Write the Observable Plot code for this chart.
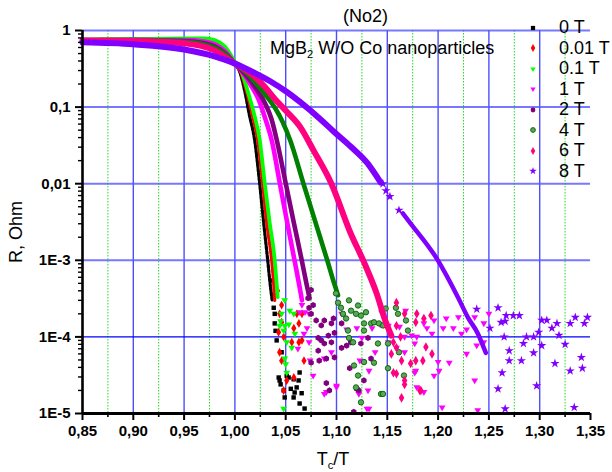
<!DOCTYPE html>
<html><head><meta charset="utf-8">
<script src="https://cdn.jsdelivr.net/npm/d3@7"></script>
<script src="https://cdn.jsdelivr.net/npm/@observablehq/plot@0.6"></script>
<style>
html,body{margin:0;padding:0;background:#fff;overflow:hidden;}
#wrap{position:relative;width:612px;height:472px;overflow:hidden;font-family:"Liberation Sans",Arial,sans-serif;}
.ov{position:absolute;white-space:nowrap;color:#000;line-height:1;font-family:"Liberation Sans",Arial,sans-serif;}
.ov sub{font-size:0.62em;vertical-align:-0.35em;line-height:0;}
</style></head><body>
<div id="wrap"></div>
<script>
// ---- data ----
const fieldLabels = ["0 T","0.01 T","0.1 T","1 T","2 T","4 T","6 T","8 T"];
const xTicks = [0.85,0.90,0.95,1.00,1.05,1.10,1.15,1.20,1.25,1.30,1.35];
const xMinor = [0.875,0.925,0.975,1.025,1.075,1.125,1.175,1.225,1.275,1.325];
const yTicks = [1e-5,1e-4,1e-3,1e-2,1e-1,1];
const yTickLabels = ["1E-5","1E-4","1E-3","0,01","0,1","1"];

// dense parts [Tc/T, R]
const curve0T = [[0.85,0.76],[0.90,0.77],[0.95,0.78],[0.97,0.77],[0.98,0.72],[0.99,0.58],[1.0,0.37],[1.005,0.283],[1.01,0.155],[1.014,0.082],[1.0195,0.0366],[1.0244,0.01],[1.0283,3.1e-3],[1.0323,1.0e-3],[1.0347,4.9e-4],[1.0367,3.0e-4]];
const curve001T = [[0.85,0.76],[0.90,0.77],[0.95,0.78],[0.97,0.77],[0.98,0.73],[0.99,0.59],[1.0,0.37],[1.006,0.28],[1.012,0.15],[1.017,0.08],[1.0225,0.0366],[1.0274,0.01],[1.0313,3.1e-3],[1.0362,1.0e-3],[1.0382,4.9e-4],[1.0392,3.0e-4]];
const curve01T = [[0.85,0.76],[0.90,0.77],[0.95,0.79],[0.97,0.79],[0.98,0.75],[0.99,0.62],[1.0,0.39],[1.007,0.28],[1.013,0.155],[1.019,0.08],[1.0245,0.0366],[1.0294,0.01],[1.0342,3.1e-3],[1.0392,1.0e-3],[1.0411,4.9e-4],[1.0421,3.3e-4]];
const curve1T = [[0.85,0.74],[0.90,0.75],[0.95,0.75],[0.97,0.72],[0.98,0.66],[0.99,0.54],[1.0,0.37],[1.008,0.28],[1.016,0.19],[1.024,0.12],[1.030,0.07],[1.0363,0.0366],[1.0443,0.01],[1.0515,3.1e-3],[1.0587,1.0e-3],[1.0648,3.7e-4],[1.066,3.0e-4]];
const curve2T = [[0.85,0.73],[0.90,0.74],[0.95,0.73],[0.97,0.68],[0.98,0.62],[0.99,0.51],[1.0,0.37],[1.01,0.27],[1.02,0.18],[1.03,0.11],[1.036,0.07],[1.0413,0.0366],[1.0501,0.01],[1.058,3.1e-3],[1.0658,1.0e-3],[1.0705,4.9e-4],[1.0735,3.2e-4]];
const curve4T = [[0.85,0.75],[0.90,0.75],[0.95,0.72],[0.97,0.66],[0.98,0.60],[0.99,0.50],[1.0,0.37],[1.01,0.29],[1.02,0.21],[1.03,0.145],[1.04,0.095],[1.047,0.064],[1.0545,0.0366],[1.0675,0.01],[1.0794,3.1e-3],[1.0909,1.0e-3],[1.0979,4.9e-4],[1.1015,3.5e-4]];
const curve6T = [[0.85,0.74],[0.90,0.73],[0.95,0.68],[0.98,0.55],[1.0,0.37],[1.01,0.31],[1.02,0.245],[1.03,0.18],[1.04,0.125],[1.05,0.09],[1.0647,0.054],[1.0775,0.027],[1.095,0.01],[1.114,2.24e-3],[1.1276,9.1e-4],[1.1395,3.7e-4],[1.148,1.64e-4],[1.154,1.04e-4]];
const curve8T = [[0.85,0.70],[0.90,0.66],[0.95,0.565],[0.98,0.46],[1.0,0.37],[1.0185,0.283],[1.0352,0.216],[1.0519,0.155],[1.0647,0.115],[1.0844,0.069],[1.0972,0.048],[1.1139,0.0306],[1.1306,0.0184],[1.1434,0.0104]];
const curve8Tlow = [[1.1653,4.1e-3],[1.1732,3.0e-3],[1.1998,1.0e-3],[1.2195,3.3e-4],[1.2293,1.8e-4],[1.2392,1.1e-4],[1.2441,7.7e-5],[1.247,6.2e-5]];

// scattered parts [Tc/T, R]
const tail0T = [[1.0362,5.45e-4],[1.0392,3.47e-4],[1.0382,2.4e-4],[1.0392,2.0e-4],[1.0392,1.5e-4],[1.040,1.2e-4],[1.0411,9.0e-5],[1.046,6.3e-5],[1.0431,2.95e-5],[1.044,2.7e-5],[1.0529,2.95e-5],[1.0578,2.8e-5],[1.0637,3.43e-5],[1.0627,2.7e-5],[1.0608,2.19e-5],[1.0588,1.88e-5],[1.0657,1.84e-5],[1.0578,1.62e-5],[1.049,1.62e-5],[1.0637,1.35e-5],[1.0686,1.16e-5],[1.048,2.0e-5],[1.045,2.4e-5],[1.055,2.1e-5],[1.051,3.1e-5]];
const tail001T = [[1.042,4.0e-4],[1.046,2.6e-4],[1.044,2.0e-4],[1.046,1.55e-4],[1.043,1.15e-4],[1.048,1.0e-4],[1.044,6.3e-5],[1.046,4.9e-5],[1.048,2.0e-5],[1.051,2.7e-5],[1.058,2.95e-5],[1.063,1.5e-4],[1.061,2.0e-4],[1.066,2.0e-4],[1.066,9.0e-5],[1.068,4.9e-5],[1.056,8.5e-5],[1.063,8.5e-5],[1.058,1.3e-4]];
const tail01T = [[1.049,3.0e-4],[1.046,2.0e-4],[1.044,1.4e-4],[1.048,1.2e-4],[1.049,1.4e-4],[1.054,2.2e-4],[1.058,2.0e-4],[1.059,1.1e-4],[1.051,8.5e-5],[1.056,7.2e-5],[1.049,5.2e-5],[1.051,3.4e-5],[1.048,1.15e-5],[1.053,1.45e-4],[1.045,1.6e-4],[1.050,4.4e-5]];
const tail1T = [[1.066,2.6e-4],[1.069,2.1e-4],[1.073,2.0e-4],[1.071,1.3e-4],[1.068,1.1e-4],[1.073,8.5e-5],[1.095,6.3e-5],[1.088,5.2e-5],[1.077,3.1e-5],[1.100,2.3e-5],[1.088,1.8e-5],[1.105,2.0e-4],[1.110,1.25e-4],[1.120,1.3e-4],[1.125,9.7e-5],[1.135,1.3e-4],[1.138,6.3e-5],[1.123,4.9e-5],[1.132,3.6e-5],[1.122,1.8e-5],[1.132,1.15e-5],[1.151,1.4e-4],[1.151,8.5e-5],[1.159,7.2e-5],[1.167,6.3e-5],[1.174,1.04e-4],[1.186,1.5e-4],[1.178,3.6e-5],[1.168,2.2e-4],[1.196,1.64e-4],[1.208,1.74e-4],[1.220,1.8e-4],[1.236,1.8e-4],[1.245,1.5e-4],[1.250,2.0e-4],[1.228,1.25e-4],[1.205,1.3e-4],[1.215,1.3e-4],[1.189,1.3e-4],[1.194,1.1e-4],[1.179,1.0e-4],[1.167,1.0e-4],[1.223,1.1e-4],[1.177,8.2e-5],[1.228,6.0e-5],[1.211,4.6e-5],[1.200,4.7e-5],[1.201,3.6e-5],[1.196,3.1e-5],[1.177,3.4e-5],[1.179,2.2e-5],[1.186,1.9e-5],[1.236,2.7e-5],[1.238,7.7e-5],[1.245,8.5e-5],[1.204,1.2e-5],[1.239,1.1e-5],[1.064,2.1e-4],[1.062,7.0e-5],[1.074,4.9e-5],[1.090,1.9e-5],[1.100,2.2e-5],[1.130,1.15e-5],[1.131,2.0e-5],[1.143,1.45e-4],[1.162,1.35e-4]];
const tail2T = [[1.075,4.1e-4],[1.072,3.2e-4],[1.077,2.6e-4],[1.075,2.0e-4],[1.080,1.64e-4],[1.085,1.41e-4],[1.088,1.64e-4],[1.095,1.5e-4],[1.082,9.7e-5],[1.085,9.0e-5],[1.092,1.04e-4],[1.098,1.13e-4],[1.088,8.2e-5],[1.095,8.5e-5],[1.082,6.6e-5],[1.090,5.2e-5],[1.098,5.4e-5],[1.083,4.9e-5],[1.090,2.5e-5],[1.093,2.0e-5],[1.105,7.2e-5],[1.110,7.7e-5],[1.113,3.9e-5],[1.120,2.1e-5],[1.122,2.0e-5],[1.117,1.05e-5],[1.127,2.7e-5],[1.134,5.2e-5],[1.124,8.2e-5],[1.131,9.7e-5],[1.097,1.74e-4],[1.105,1.5e-4],[1.114,8.5e-5],[1.073,2.4e-4],[1.075,4.6e-5]];
const tail4T = [[1.0995,3.7e-4],[1.1015,2.8e-4],[1.1044,2.4e-4],[1.1064,2.0e-4],[1.1094,1.74e-4],[1.1113,1.21e-4],[1.1123,9.7e-5],[1.1163,8.5e-5],[1.1192,2.0e-4],[1.1212,2.57e-4],[1.1241,1.9e-4],[1.129,2.1e-4],[1.1271,1.5e-4],[1.134,1.5e-4],[1.1369,1.55e-4],[1.1418,1.5e-4],[1.1458,1.41e-4],[1.1408,8.2e-5],[1.1271,1.21e-4],[1.1369,4.6e-5],[1.1271,4.7e-5],[1.1172,4.23e-5],[1.1212,3.13e-5],[1.1192,2.19e-5],[1.1241,1.4e-5],[1.1438,1.8e-5],[1.1507,3.9e-5],[1.1585,2.4e-4],[1.1605,2.0e-4],[1.1684,1.64e-4],[1.1703,1.21e-4],[1.1143,2.2e-4],[1.1123,3.0e-4],[1.1484,2.35e-4],[1.1507,8.2e-5],[1.1615,6.3e-5],[1.1664,3.13e-5],[1.1458,1.8e-5]];
const tail6T = [[1.159,2.8e-4],[1.179,2.0e-4],[1.193,1.9e-4],[1.178,1.55e-4],[1.163,1.0e-4],[1.188,7.4e-5],[1.194,6.0e-5],[1.185,4.9e-5],[1.173,4.5e-5],[1.156,3.4e-5],[1.167,2.7e-5],[1.167,2.4e-5],[1.182,2.0e-5],[1.164,1.6e-5],[1.144,2.2e-4],[1.151,1.3e-4],[1.159,7.2e-5],[1.167,2.0e-4],[1.186,1.74e-4],[1.159,1.4e-4],[1.156,8.5e-5],[1.154,6.0e-5],[1.164,4.9e-5],[1.159,3.3e-5],[1.178,4.9e-5],[1.183,2.0e-5]];
const tail8T = [[1.1457,1.0e-2],[1.1487,8.1e-3],[1.1526,6.8e-3],[1.1615,4.5e-3],[1.238,2.3e-4],[1.259,2.4e-4],[1.266,1.6e-4],[1.267,1.9e-4],[1.274,1.9e-4],[1.280,1.9e-4],[1.262,1.55e-4],[1.251,1.3e-4],[1.265,1.0e-4],[1.270,6.6e-5],[1.263,3.4e-5],[1.259,2.1e-5],[1.266,1.15e-5],[1.284,8.2e-5],[1.287,1.0e-4],[1.294,1.0e-4],[1.299,1.15e-4],[1.302,1.65e-4],[1.307,1.65e-4],[1.312,1.3e-4],[1.317,1.5e-4],[1.319,1.05e-4],[1.302,7.7e-5],[1.294,6.2e-5],[1.282,4.9e-5],[1.270,4.9e-5],[1.297,2.3e-5],[1.315,4.5e-5],[1.325,8.0e-5],[1.330,1.5e-4],[1.335,1.8e-4],[1.344,1.5e-4],[1.347,1.8e-4],[1.341,5.4e-5],[1.330,3.6e-5],[1.342,3.9e-5],[1.334,1.2e-5]];

// ---- styles ----
const colors = ["#000000","#ff0000","#00ff00","#ff00ff","#800080","#008000","#ff0080","#8000ff"];
const lineWidths = [3.2,3.2,3.8,4.6,4.6,4.6,6,6];
const dotRadii = [2.5,2.7,3.1,3.1,2.7,2.7,2.9,2.9];
const triDown = {draw(ctx, size){const r=Math.sqrt(size)*0.62;ctx.moveTo(-r,-r*0.6);ctx.lineTo(r,-r*0.6);ctx.lineTo(0,r*1.1);ctx.closePath();}};
const symbols = [d3.symbolSquare, d3.symbolDiamond, triDown, triDown, "hexagon", "circle", d3.symbolDiamond, d3.symbolStar];
const curves = [curve0T,curve001T,curve01T,curve1T,curve2T,curve4T,curve6T,curve8T];
const tails = [tail0T,tail001T,tail01T,tail1T,tail2T,tail4T,tail6T,tail8T];

const marks = [
  Plot.ruleX(xMinor, {stroke:"#22dd22", strokeWidth:1, strokeDasharray:"1.5,1.5"}),
  Plot.ruleX(xTicks.slice(1,-1), {stroke:"#2222ff", strokeOpacity:0.8, strokeWidth:1.4}),
  Plot.ruleY(yTicks.slice(2), {stroke:"#5555ff", strokeOpacity:0.8, strokeWidth:2}),
  Plot.ruleY([yTicks[1]], {stroke:"#0000ff", strokeWidth:1.2})
];
curves.forEach((c,i)=>{
  const lopts = {x:d=>d[0], y:d=>d[1], stroke:colors[i], strokeWidth:lineWidths[i], curve:"monotone-x"};
  if (i===0) lopts.strokeDasharray = "3,1.6";
  marks.push(Plot.line(c, lopts));
  if (i===7) marks.push(Plot.line(curve8Tlow, {x:d=>d[0], y:d=>d[1], stroke:colors[i], strokeWidth:4.5, curve:"monotone-x"}));
  const opts = {x:d=>d[0], y:d=>d[1], symbol:symbols[i], fill:colors[i], r:dotRadii[i]};
  if (i===5) Object.assign(opts, {fill:"#5aa55a", stroke:"#006400", strokeWidth:0.9});
  marks.push(Plot.dot(tails[i], opts));
});
marks.push(
  Plot.axisX({ticks:xTicks, tickFormat:d=>d.toFixed(2).replace(".",","), tickSize:7, tickPadding:5, fontSize:15, fontWeight:"bold", strokeWidth:2, label:null}),
  Plot.axisX({ticks:xMinor, tickSize:4, tickFormat:()=>"", strokeWidth:1.6, label:null}),
  Plot.axisY({ticks:yTicks, tickFormat:d=>yTickLabels[yTicks.indexOf(d)], tickSize:7, tickPadding:5, fontSize:15, fontWeight:"bold", strokeWidth:2, label:null}),
  Plot.axisY({ticks:d3.range(-5,0).flatMap(e=>d3.range(2,10).map(m=>m*Math.pow(10,e))), tickSize:4, tickFormat:()=>"", strokeWidth:1.4, label:null}),
  Plot.ruleX([0.85], {stroke:"#000", strokeWidth:2.6}),
  Plot.ruleY([1e-5], {stroke:"#000", strokeWidth:2.8})
);

const plot = Plot.plot({
  width:612, height:472,
  marginLeft:82, marginRight:22, marginTop:30, marginBottom:59,
  x:{domain:[0.85,1.35], label:null},
  y:{type:"log", domain:[1e-5,1], label:null},
  style:{fontFamily:"Liberation Sans, Arial, sans-serif", background:"transparent", color:"#000"},
  marks
});
const wrap = document.getElementById("wrap");
wrap.appendChild(plot);

function addText(html, css){const d=document.createElement("div");d.className="ov";d.innerHTML=html;Object.assign(d.style,css);wrap.appendChild(d);return d;}
addText("(No2)", {left:"343px", top:"7px", fontSize:"18px"});
addText("MgB<sub>2</sub> W/O Co nanoparticles", {left:"270px", top:"39px", fontSize:"18px"});
addText("T<sub>c</sub>/T", {left:"333px", top:"450px", fontSize:"18px", transform:"translateX(-50%)"});
addText("R, Ohm", {left:"16px", top:"232px", fontSize:"18px", transform:"translate(-50%,-50%) rotate(-90deg)"});

// legend
fieldLabels.forEach((lab,i)=>{
  const cy = 27.5 + 20.5*i;
  const svg = d3.create("svg").attr("width",12).attr("height",12)
    .style("position","absolute").style("left",(533-6)+"px").style("top",(cy-6)+"px");
  const sym = typeof symbols[i]==="string" ? d3.symbolCircle : symbols[i];
  const p = svg.append("path").attr("transform","translate(6,6)").attr("d", d3.symbol().type(sym).size(18)())
    .attr("fill", i===5 ? "#5aa55a" : colors[i]);
  if (i===5) p.attr("stroke","#006400").attr("stroke-width",0.9);
  wrap.appendChild(svg.node());
  addText(lab, {left:"559px", top:(cy+5.5-15)+"px", fontSize:"18px"});
});
</script>
</body></html>
